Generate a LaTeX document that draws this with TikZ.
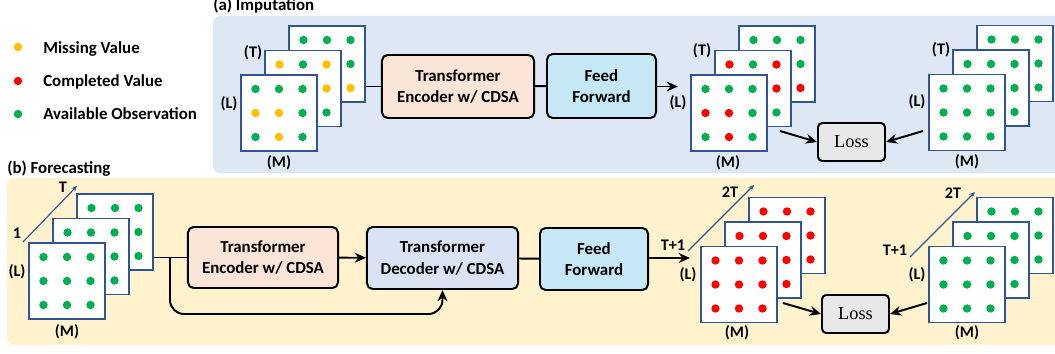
\documentclass[tikz,border=0pt]{standalone}
\usepackage{fontspec}
\setmainfont{Carlito}
\newfontfamily\lossfont{Liberation Serif}
\usetikzlibrary{arrows.meta}

\definecolor{panelA}{HTML}{DEE8F4}
\definecolor{panelB}{HTML}{FFF2CC}
\definecolor{encfill}{HTML}{FBE5D6}
\definecolor{decfill}{HTML}{DAE3F3}
\definecolor{fffill}{HTML}{C5E7F6}
\definecolor{lossfill}{HTML}{E8E8E8}
\definecolor{gridblue}{HTML}{2F5597}
\definecolor{G}{HTML}{00B050}
\definecolor{R}{HTML}{FF0000}
\definecolor{Y}{HTML}{FFC000}

% one square with 3x3 dots: name, centre x, centre y, colours row by row
\newcommand{\dotsquare}[4]{%
  \node[sq] (#1) at ({#2},{#3}) {};
  \foreach \dotcol [count=\i from 0] in {#4} {
    \pgfmathtruncatemacro{\row}{\i/3}
    \pgfmathtruncatemacro{\col}{mod(\i,3)}
    \fill[\dotcol] ({#2+(\col-1)*23.5},{#3+(\row-1)*24}) circle[radius=3pt];
  }}
% three squares stacked: name, front centre x, y, back / middle / front colours
\newcommand{\dotstack}[6]{%
  \dotsquare{#1b}{#2+48}{#3-49}{#4}
  \dotsquare{#1m}{#2+24}{#3-24.5}{#5}
  \dotsquare{#1f}{#2}{#3}{#6}}

\begin{document}
\begin{tikzpicture}[x=0.025cm, y=-0.025cm, >={Stealth[length=8pt,width=7pt]},
  block/.style={draw, line width=1.4pt, rounded corners=4pt, align=center, font=\bfseries\fontsize{12}{15}\selectfont},
  lossbox/.style={draw, line width=1.4pt, rounded corners=3pt, fill=lossfill, minimum width=1.675cm, minimum height=0.95cm, font=\lossfont\fontsize{13}{15}\selectfont},
  lbl/.style={font=\bfseries\fontsize{11.5}{13}\selectfont, inner sep=0pt},
  title/.style={font=\bfseries\fontsize{12}{14}\selectfont, inner sep=0pt, anchor=base west},
  link/.style={line width=1.4pt},
  axis/.style={draw=gridblue, line width=0.8pt, -{Stealth[length=4pt,width=3.5pt]}},
  sq/.style={draw=gridblue, line width=1pt, fill=white, minimum size=1.9cm, inner sep=0pt}]

\useasboundingbox (0,0) rectangle (1055,354);

% panels
\fill[panelA, rounded corners=5pt] (213,16) rectangle (1070,173);
\fill[panelB, rounded corners=5pt] (7,178) rectangle (1070,345);
\node[title] (ttla) at (213,11) {(a) Imputation};
\node[title] (ttlb) at (7,174) {(b) Forecasting};

% legend
\fill[Y] (18,47) circle[radius=3pt];
\fill[R] (18,81) circle[radius=3pt];
\fill[G] (18,114) circle[radius=3pt];
\node[title] (legm) at (43,54) {Missing Value};
\node[title] (legc) at (43,87) {Completed Value};
\node[title] (lega) at (43,120) {Available Observation};

% (a) imputation
\dotstack{ina}{279}{113}{G,G,G,G,G,G,G,G,Y}{Y,G,Y,G,G,Y,G,G,G}{G,G,G,Y,Y,G,G,Y,G}
\node[lbl] (ina-t) at (253,53) {(T)};
\node[lbl] (ina-l) at (229,104) {(L)};
\node[lbl] (ina-m) at (279,163) {(M)};

\node[block, fill=encfill, minimum width=3.8cm, minimum height=1.575cm] (enca) at (458,86.5) {Transformer\\Encoder w/ CDSA};
\node[block, fill=fffill, minimum width=2.725cm, minimum height=1.6cm] (ffa) at (601.5,86) {Feed\\Forward};

\dotstack{outa}{729}{113}{G,G,G,G,G,G,G,G,R}{R,G,R,G,G,R,G,G,G}{G,G,G,R,R,G,G,R,G}
\node[lbl] (outa-t) at (702,51) {(T)};
\node[lbl] (outa-l) at (678,103) {(L)};
\node[lbl] (outa-m) at (728,163) {(M)};

\dotstack{gta}{967}{112.5}{G,G,G,G,G,G,G,G,G}{G,G,G,G,G,G,G,G,G}{G,G,G,G,G,G,G,G,G}
\node[lbl] (gta-t) at (941,50) {(T)};
\node[lbl] (gta-l) at (917,102) {(L)};
\node[lbl] (gta-m) at (967,162) {(M)};

\node[lossbox] (lossa) at (851.5,142) {Loss};

\coordinate (enda) at (678,86.5);
\coordinate (fromouta) at (780,131);
\coordinate (fromgta) at (923,131);
\draw[link] (inab.east |- enca.west) -- (enca.west);
\draw[link] (enca) -- (ffa);
\draw[link,->] (ffa.east |- enda) -- (enda);
\draw[link,->] (fromouta) -- (lossa.west);
\draw[link,->] (fromgta) -- (lossa.east);

% (b) forecasting
\dotstack{inb}{67}{281}{G,G,G,G,G,G,G,G,G}{G,G,G,G,G,G,G,G,G}{G,G,G,G,G,G,G,G,G}
\node[lbl] (inb-l) at (17,272) {(L)};
\node[lbl] (inb-m) at (67,332) {(M)};
\node[lbl] (inb-1) at (17,233) {1};
\node[lbl] (inb-T) at (63,187) {T};
\coordinate (axb0) at (23,242);
\coordinate (axb1) at (77,186);
\draw[axis] (axb0) -- (axb1);

\node[block, fill=encfill, minimum width=3.75cm, minimum height=1.525cm] (encb) at (263,257.5) {Transformer\\Encoder w/ CDSA};
\node[block, fill=decfill, minimum width=3.775cm, minimum height=1.55cm] (decb) at (442.5,258) {Transformer\\Decoder w/ CDSA};
\node[block, fill=fffill, minimum width=2.7cm, minimum height=1.55cm] (ffb) at (594,259) {Feed\\Forward};

\dotstack{outb}{739}{284.5}{R,R,R,R,R,R,R,R,R}{R,R,R,R,R,R,R,R,R}{R,R,R,R,R,R,R,R,R}
\node[lbl] (outb-l) at (688,275) {(L)};
\node[lbl] (outb-m) at (737,333) {(M)};
\node[lbl] (outb-2T) at (730,192) {2T};
\node[lbl] (outb-T1) at (673,245) {T+1};
\coordinate (axo0) at (688,251);
\coordinate (axo1) at (754,185);
\draw[axis] (axo0) -- (axo1);

\dotstack{gtb}{967}{284.5}{G,G,G,G,G,G,G,G,G}{G,G,G,G,G,G,G,G,G}{G,G,G,G,G,G,G,G,G}
\node[lbl] (gtb-l) at (917,275) {(L)};
\node[lbl] (gtb-m) at (967,333) {(M)};
\node[lbl] (gtb-2T) at (953,193) {2T};
\node[lbl] (gtb-T1) at (895,250) {T+1};
\coordinate (axg0) at (910,257);
\coordinate (axg1) at (975,192);
\draw[axis] (axg0) -- (axg1);

\node[lossbox] (lossb) at (855.5,314) {Loss};

\coordinate (brk) at (170,257.5);
\coordinate (bend) at (442.5,314);
\coordinate (endb) at (690,258);
\coordinate (fromoutb) at (783,303);
\coordinate (fromgtb) at (927,303);
\draw[link] (inbb.east |- encb.west) -- (encb.west);
\draw[link,->,rounded corners=10pt] (brk) |- (bend) -- (decb.south);
\draw[link,->] (encb) -- (decb);
\draw[link] (decb) -- (ffb);
\draw[link,->] (ffb.east |- endb) -- (endb);
\draw[link,->] (fromoutb) -- (lossb.west);
\draw[link,->] (fromgtb) -- (lossb.east);
\end{tikzpicture}
\end{document}
